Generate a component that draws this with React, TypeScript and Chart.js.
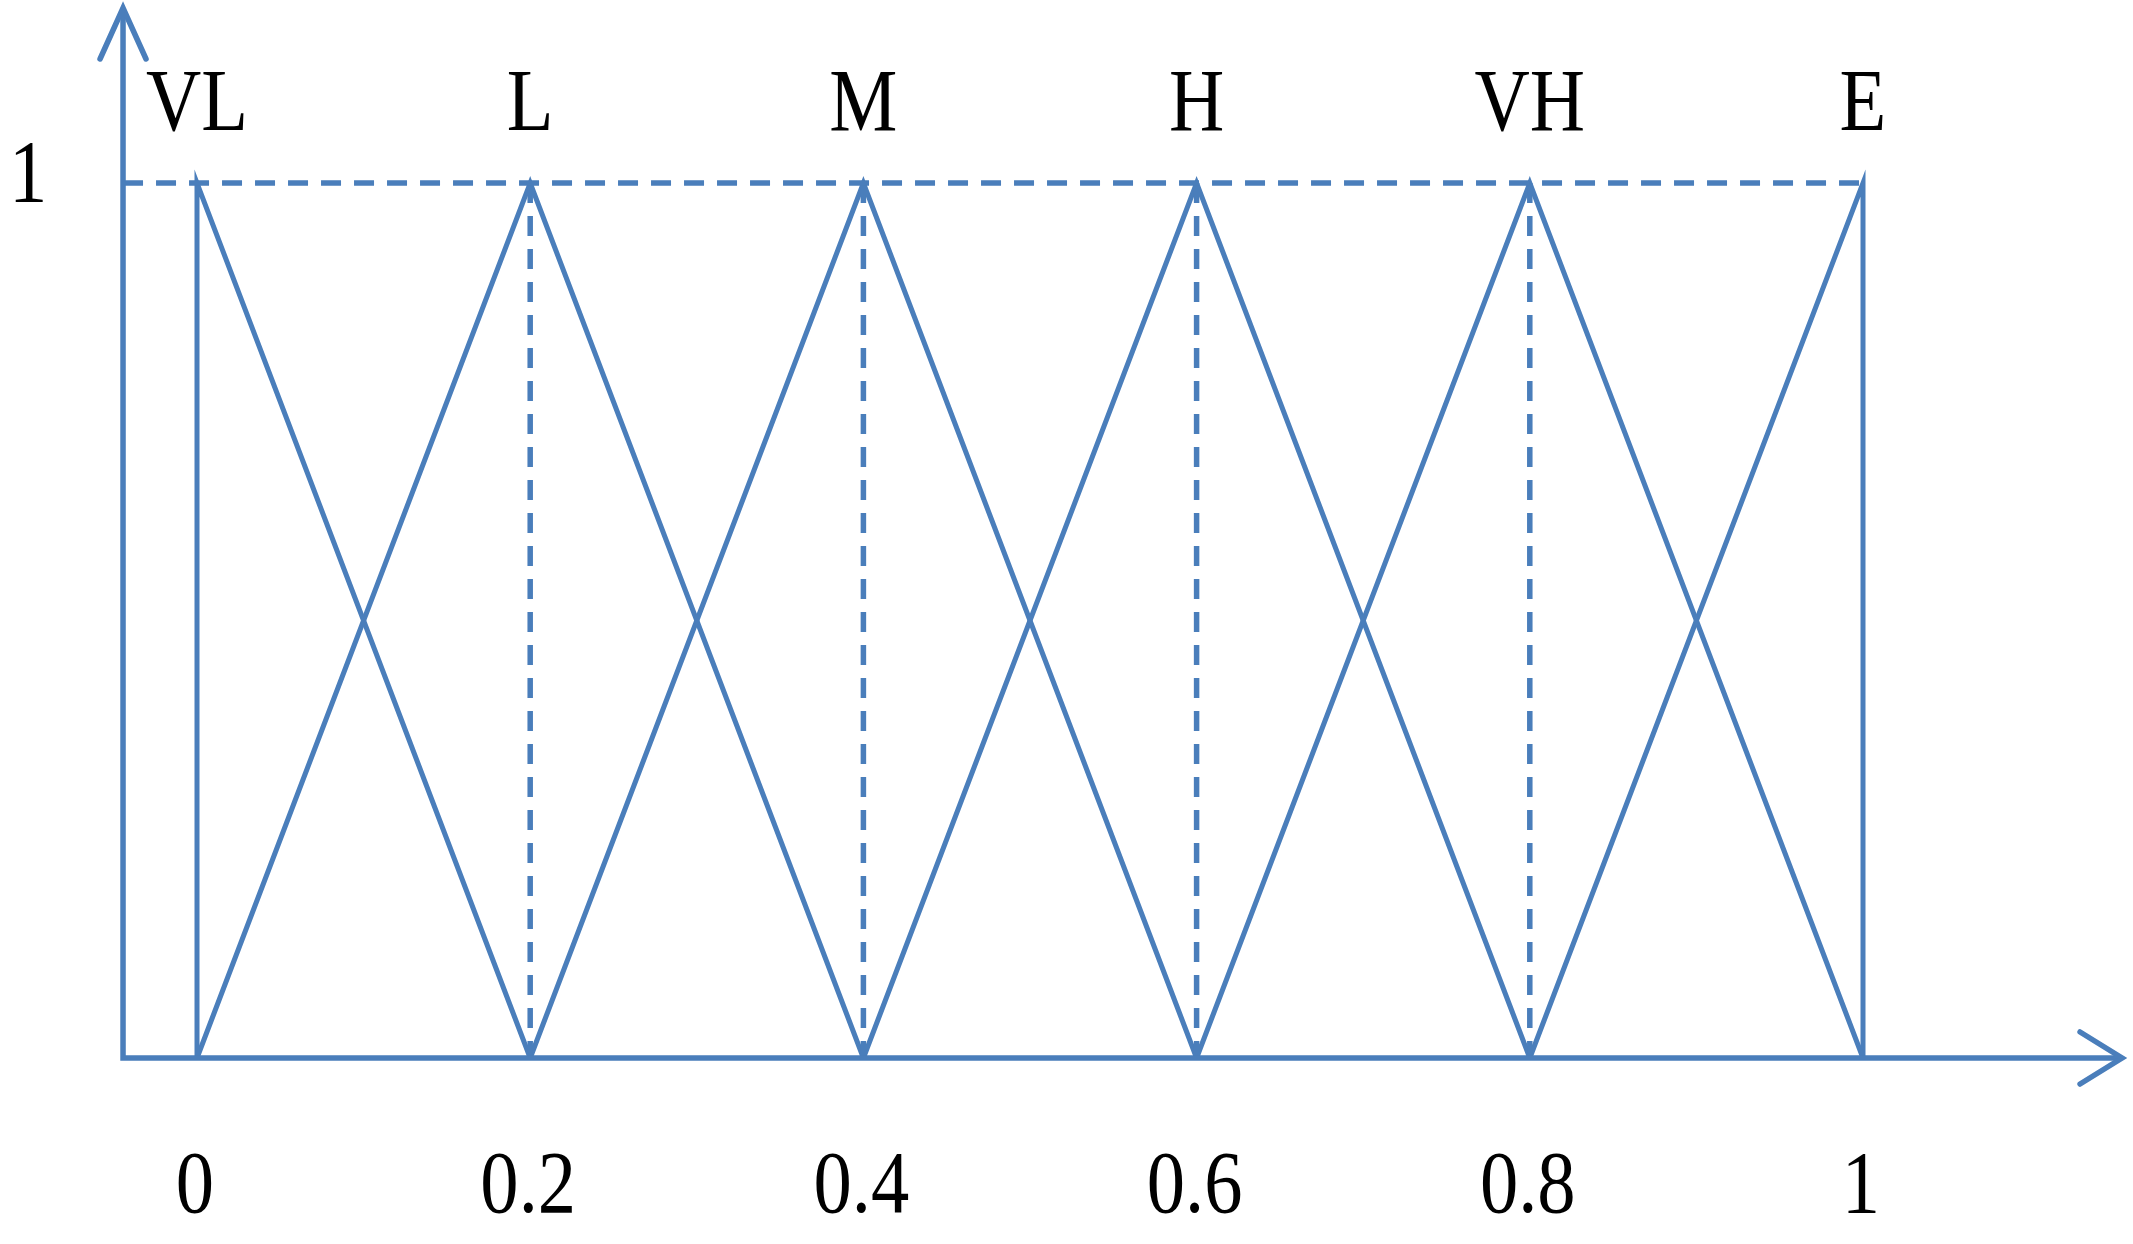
import React, { useEffect, useRef } from "react";
import { Chart, registerables } from "chart.js";

Chart.register(...registerables);

// ---- data ----
const categories = ["VL", "L", "M", "H", "VH", "E"];
const peaks = [0, 0.2, 0.4, 0.6, 0.8, 1];
const tickValues = [0, 0.2, 0.4, 0.6, 0.8, 1];
const tickLabels = ["0", "0.2", "0.4", "0.6", "0.8", "1"];
const yTickValues = [1];
const yTickLabels = ["1"];
// membership functions: [x, y] vertices
const membershipVL = [[0, 0], [0, 1], [0.2, 0]];
const membershipL = [[0, 0], [0.2, 1], [0.4, 0]];
const membershipM = [[0.2, 0], [0.4, 1], [0.6, 0]];
const membershipH = [[0.4, 0], [0.6, 1], [0.8, 0]];
const membershipVH = [[0.6, 0], [0.8, 1], [1, 0]];
const membershipE = [[0.8, 0], [1, 1], [1, 0]];
const dashedVerticalX = [0.2, 0.4, 0.6, 0.8];
const axisOriginX = -0.0444;
const xAxisEnd = 1.1555;
const yAxisEnd = 1.2;

const BLUE = "#4A7EBB";
const FONT = '88px "Liberation Serif", "Times New Roman", serif';
const TEXT_SQUEEZE = 0.87;

const toPts = (arr: number[][]) => arr.map(([x, y]) => ({ x, y }));

export default function App() {
  const ref = useRef<HTMLCanvasElement | null>(null);

  useEffect(() => {
    document.body.style.margin = "0";
    document.body.style.overflow = "hidden";
    const canvas = ref.current!;
    const solid = (pts: number[][]) => ({
      data: toPts(pts),
      showLine: true,
      borderColor: BLUE,
      borderWidth: 5,
      pointRadius: 0,
      tension: 0,
      clip: false as any,
      borderJoinStyle: "miter" as const,
    });
    const dashed = (pts: number[][]) => ({
      ...solid(pts),
      borderDash: [20, 13],
      borderWidth: 5.5,
    });

    const datasets: any[] = [
      dashed([[axisOriginX, 1], [1, 1]]),
      ...dashedVerticalX.map((x) => dashed([[x, 1], [x, 0]])),
      solid(membershipVL),
      solid(membershipL),
      solid(membershipM),
      solid(membershipH),
      solid(membershipVH),
      solid(membershipE),
    ];

    const drawText = (ctx: CanvasRenderingContext2D, t: string, x: number, y: number) => {
      ctx.save();
      ctx.translate(x, y);
      ctx.scale(TEXT_SQUEEZE, 1);
      ctx.fillText(t, 0, 0);
      ctx.restore();
    };

    const overlay = {
      id: "overlay",
      afterDatasetsDraw(chart: any) {
        const ctx = chart.ctx as CanvasRenderingContext2D;
        const xs = chart.scales.x;
        const ys = chart.scales.y;
        const ox = xs.getPixelForValue(axisOriginX);
        const oy = ys.getPixelForValue(0);
        const xEnd = xs.getPixelForValue(xAxisEnd);
        const yEnd = ys.getPixelForValue(yAxisEnd);
        ctx.save();
        ctx.strokeStyle = BLUE;
        ctx.lineWidth = 5.5;
        ctx.lineCap = "butt";
        // axes
        ctx.beginPath();
        ctx.moveTo(ox, yEnd);
        ctx.lineTo(ox, oy);
        ctx.lineTo(xEnd, oy);
        ctx.stroke();
        // arrow heads
        ctx.lineCap = "round";
        ctx.beginPath();
        ctx.moveTo(xEnd - 42, oy - 26);
        ctx.lineTo(xEnd, oy);
        ctx.lineTo(xEnd - 42, oy + 26);
        ctx.moveTo(ox - 23, yEnd + 51);
        ctx.lineTo(ox, yEnd);
        ctx.lineTo(ox + 23, yEnd + 51);
        ctx.stroke();
        // text
        ctx.fillStyle = "#000";
        ctx.font = FONT;
        ctx.textAlign = "center";
        ctx.textBaseline = "alphabetic";
        const top = ys.getPixelForValue(1);
        categories.forEach((c, i) => {
          drawText(ctx, c, xs.getPixelForValue(peaks[i]), top - 53);
        });
        tickLabels.forEach((t, i) => {
          drawText(ctx, t, xs.getPixelForValue(tickValues[i]) - 2, oy + 154);
        });
        yTickLabels.forEach((t, i) => {
          drawText(ctx, t, ox - 95, ys.getPixelForValue(yTickValues[i]) + 18);
        });
        ctx.restore();
      },
    };

    const chart = new Chart(canvas, {
      type: "scatter",
      data: { datasets },
      options: {
        animation: false,
        responsive: false,
        maintainAspectRatio: false,
        layout: { padding: { left: 197, right: 270, top: 183, bottom: 186 } },
        plugins: { legend: { display: false }, tooltip: { enabled: false } },
        scales: {
          x: { type: "linear", min: 0, max: 1, display: false },
          y: { type: "linear", min: 0, max: 1, display: false },
        },
        events: [],
      },
      plugins: [overlay],
    });
    return () => chart.destroy();
  }, []);

  return (
    <div style={{ position: "absolute", left: 0, top: 0, width: 2133, height: 1244, background: "#fff" }}>
      <canvas ref={ref} width={2133} height={1244} style={{ display: "block" }} />
    </div>
  );
}
